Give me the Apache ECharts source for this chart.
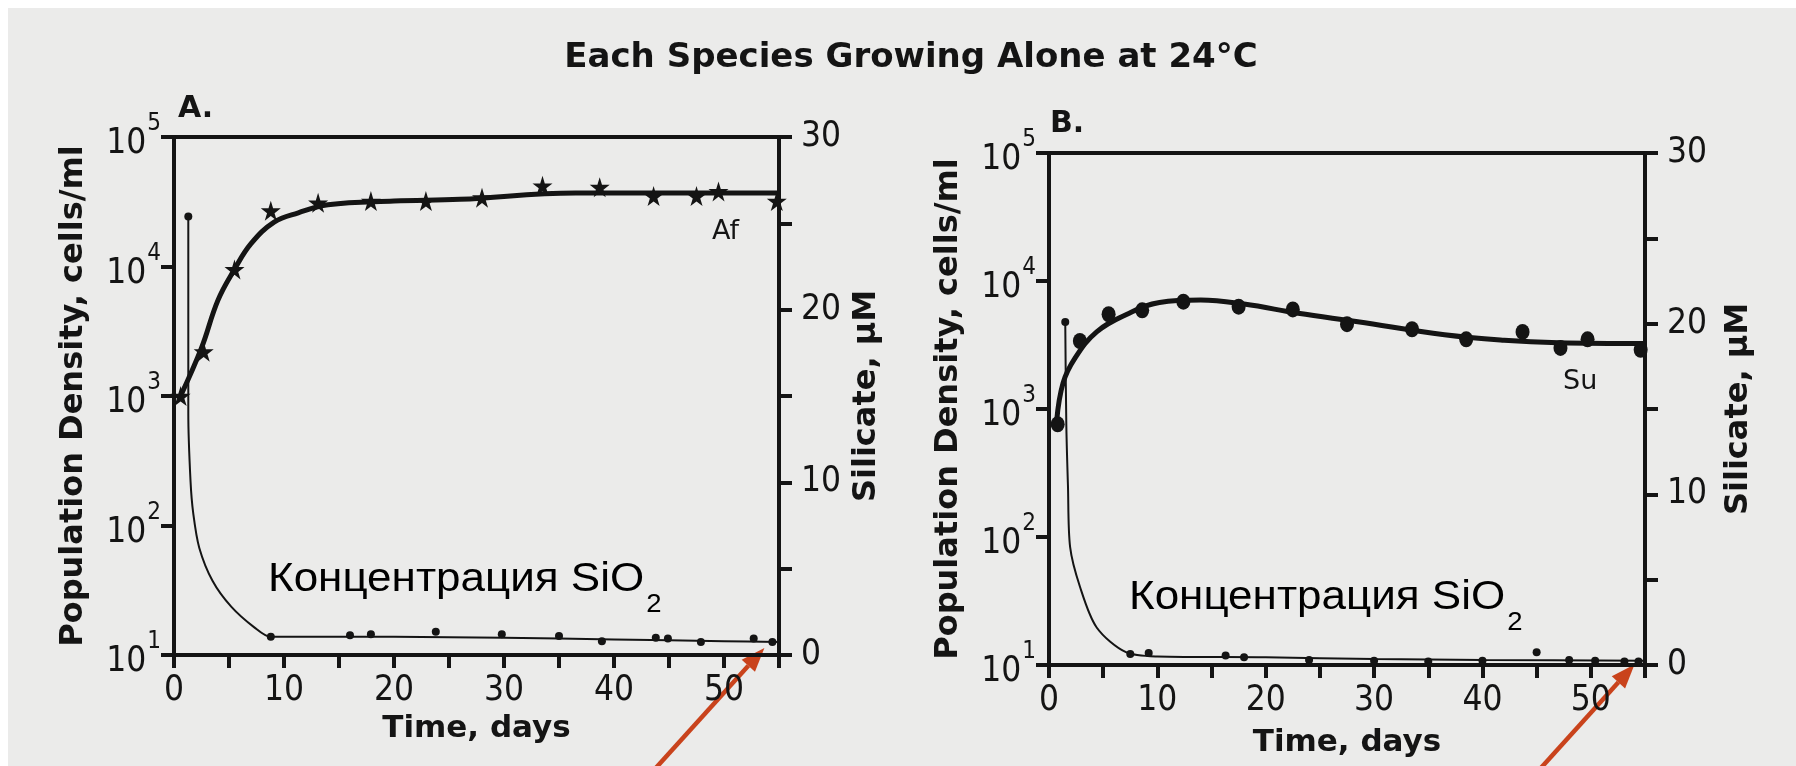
<!DOCTYPE html>
<html>
<head>
<meta charset="utf-8">
<script src="https://cdn.jsdelivr.net/npm/echarts@6/dist/echarts.min.js"></script>
<style>
  html, body { margin: 0; padding: 0; background: #ffffff; }
  #chart { width: 1796px; height: 766px; }
</style>
</head>
<body>
<div id="chart"></div>
<script>
// ---- Panel A: Af growing alone ----
const afDays  = [0.6, 2.7, 5.5, 8.8, 13.1, 17.9, 22.9, 28, 33.5, 38.7, 43.6, 47.5, 49.5, 54.8];
const afCells = [1000, 2200, 9500, 27000, 31000, 32000, 32000, 34000, 42000, 41000, 35000, 35000, 38000, 32000];
const afCurveDays  = [0.6, 2.5, 4, 5.5, 7, 9.1, 11.3, 14, 20, 26, 36.5, 45, 55];
const afCurveCells = [1000, 2350, 5500, 9500, 15000, 22000, 26000, 30000, 32000, 33000, 37000, 37000, 37000];
const afSiDays = [1.3, 8.8, 16, 17.9, 23.8, 29.8, 35, 38.9, 43.8, 44.9, 47.9, 52.7, 54.4];
const afSi     = [25.4, 1.05, 1.15, 1.2, 1.35, 1.2, 1.1, 0.8, 1.0, 0.95, 0.75, 0.95, 0.75];
const afSiCurveDays = [1.3, 1.3, 1.5, 1.75, 2.3, 3.5, 5.2, 7.3, 8.8, 20, 30, 40, 50, 55];
const afSiCurve     = [25.4, 14, 10.1, 8.2, 6.2, 4.3, 2.8, 1.6, 1.05, 1.05, 1.0, 0.9, 0.8, 0.75];

// ---- Panel B: Su growing alone ----
const suDays  = [0.8, 2.85, 5.5, 8.6, 12.4, 17.5, 22.5, 27.5, 33.5, 38.5, 43.7, 47.2, 49.7, 54.6];
const suCells = [760, 3400, 5500, 5900, 6900, 6300, 6000, 4600, 4200, 3500, 4000, 3000, 3500, 2900];
const suCurveDays  = [0.7, 1.3, 2.4, 4.4, 7.2, 10.2, 14, 18, 23, 28.5, 36.5, 42, 47, 55];
const suCurveCells = [800, 1600, 2500, 4000, 5500, 6800, 7100, 6600, 5600, 4800, 3800, 3450, 3300, 3250];
const suSiDays = [1.5, 7.5, 9.2, 16.3, 18, 24, 30, 35, 40, 45, 48, 50.4, 53.1, 54.4];
const suSi     = [20.1, 0.65, 0.7, 0.55, 0.45, 0.3, 0.25, 0.2, 0.25, 0.75, 0.3, 0.25, 0.2, 0.2];
const suSiCurveDays = [1.5, 1.6, 1.75, 1.95, 2.85, 4.4, 7.1, 10, 20, 30, 40, 55];
const suSiCurve     = [20.1, 14, 10.5, 6.9, 4.6, 2.2, 0.75, 0.5, 0.45, 0.35, 0.3, 0.25];

// ---- Text ----
const titleText = 'Each Species Growing Alone at 24°C';
const popAxisName = 'Population Density, cells/ml';
const siAxisName = 'Silicate, μM';
const timeAxisName = 'Time, days';
const panelLabels = ['A.', 'B.'];
const speciesLabels = ['Af', 'Su'];
const siNote = 'Концентрация SiO';

const ink = '#141414';
const arrowRed = '#c9431c';
const narrow = "'Liberation Sans Narrow', 'Arial Narrow', 'DejaVu Sans Condensed', 'Liberation Sans', sans-serif";
const boldFace = "'DejaVu Sans', 'Liberation Sans', sans-serif";
const starPath = 'path://M50,0 L61,35 L98,35 L68,57 L79,91 L50,70 L21,91 L32,57 L2,35 L39,35 Z';

const zip = (xs, ys) => xs.map((x, i) => [x, ys[i]]);

const grids = [
  { left: 174, top: 137, width: 605, height: 518 },
  { left: 1049, top: 153, width: 596, height: 512 }
];
const nameGaps = [
  { pop: 84, si: 72, time: 58 },
  { pop: 84, si: 78, time: 62 }
];

function timeAxis(i) {
  return {
    gridIndex: i, type: 'value', min: 0, max: 55, interval: 5,
    axisLine: { lineStyle: { color: ink, width: 4 } },
    axisTick: { length: 13, lineStyle: { color: ink, width: 4 } },
    splitLine: { show: false },
    axisLabel: {
      margin: 18, color: ink, fontSize: 35, fontFamily: narrow,
      formatter: v => (v % 10 === 0 ? String(v) : '')
    },
    name: timeAxisName, nameLocation: 'middle', nameGap: nameGaps[i].time,
    nameTextStyle: { color: ink, fontSize: 31, fontWeight: 'bold', fontFamily: boldFace }
  };
}
function popAxis(i) {
  return {
    gridIndex: i, type: 'log', logBase: 10, min: 10, max: 100000, position: 'left',
    axisLine: { lineStyle: { color: ink, width: 4 } },
    axisTick: { length: 13, lineStyle: { color: ink, width: 4 } },
    minorTick: { show: false },
    splitLine: { show: false },
    axisLabel: {
      margin: 13, color: ink,
      formatter: v => '{b|10}{s|' + Math.round(Math.log10(v)) + '}',
      rich: {
        // base digits sit slightly below the tick, exponent raised above them
        b: { fontSize: 35, lineHeight: 35, fontFamily: narrow, color: ink, padding: [14, 0, 0, 0] },
        s: { fontSize: 24, lineHeight: 24, fontFamily: narrow, color: ink, padding: [0, 0, 26, 1] }
      }
    },
    name: popAxisName, nameLocation: 'middle', nameGap: nameGaps[i].pop,
    nameTextStyle: { color: ink, fontSize: 32, fontWeight: 'bold', fontFamily: boldFace }
  };
}
function siAxis(i) {
  return {
    gridIndex: i, type: 'value', min: 0, max: 30, interval: 5, position: 'right',
    axisLine: { show: true, lineStyle: { color: ink, width: 4 } },
    axisTick: { show: true, length: 13, lineStyle: { color: ink, width: 4 } },
    splitLine: { show: false },
    axisLabel: {
      margin: 22, color: ink, fontSize: 35, fontFamily: narrow,
      formatter: v => (v % 10 === 0 ? String(v) : '')
    },
    name: siAxisName, nameLocation: 'middle', nameGap: nameGaps[i].si,
    nameTextStyle: { color: ink, fontSize: 32, fontWeight: 'bold', fontFamily: boldFace }
  };
}

function panelSeries(i, obsDays, obsCells, curveDays, curveCells, siDays, si, siCurveDays, siCurve, marker, markerSize) {
  return [
    { name: speciesLabels[i], type: 'line', xAxisIndex: i, yAxisIndex: i * 2,
      data: zip(curveDays, curveCells), smooth: 0.4, showSymbol: false,
      lineStyle: { color: ink, width: 5 }, z: 3 },
    { type: 'scatter', xAxisIndex: i, yAxisIndex: i * 2,
      data: zip(obsDays, obsCells), symbol: marker, symbolSize: markerSize,
      itemStyle: { color: ink, opacity: 1 }, z: 4 },
    { type: 'line', xAxisIndex: i, yAxisIndex: i * 2 + 1,
      data: zip(siCurveDays, siCurve), smooth: 0.3, showSymbol: false,
      lineStyle: { color: ink, width: 2 }, z: 3 },
    { type: 'scatter', xAxisIndex: i, yAxisIndex: i * 2 + 1,
      data: zip(siDays, si), symbol: 'circle', symbolSize: 8,
      itemStyle: { color: ink, opacity: 1 }, z: 4 }
  ];
}

const chart = echarts.init(document.getElementById('chart'), null, { renderer: 'canvas' });

const option = {
  animation: false,
  backgroundColor: '#ebebea',
  title: {
    text: titleText, left: 906, top: 36, textAlign: 'center',
    textStyle: { color: ink, fontSize: 34, fontWeight: 'bold', fontFamily: boldFace }
  },
  grid: grids.map(g => Object.assign({ show: true, borderColor: ink, borderWidth: 4, backgroundColor: 'transparent' }, g)),
  xAxis: [timeAxis(0), timeAxis(1)],
  yAxis: [popAxis(0), siAxis(0), popAxis(1), siAxis(1)],
  series: [
    ...panelSeries(0, afDays, afCells, afCurveDays, afCurveCells, afSiDays, afSi, afSiCurveDays, afSiCurve, starPath, 20),
    ...panelSeries(1, suDays, suCells, suCurveDays, suCurveCells, suSiDays, suSi, suSiCurveDays, suSiCurve, 'circle', [14, 16])
  ]
};
chart.setOption(option);

// Annotations: panel letters, species tags, silicate notes and arrows to the last silicate sample
function noteText(x, y) {
  return {
    type: 'text', x: x, y: y, scaleX: 1.1, originX: 0, originY: 0, z: 10,
    style: {
      text: '{m|' + siNote + '}{sub|2}', align: 'left', verticalAlign: 'top',
      rich: {
        m: { fontSize: 40, lineHeight: 40, fontFamily: "'Liberation Sans', Arial, sans-serif", fill: '#000', verticalAlign: 'top' },
        sub: { fontSize: 25, lineHeight: 25, fontFamily: "'Liberation Sans', Arial, sans-serif", fill: '#000', verticalAlign: 'top', padding: [33, 0, 0, 2] }
      }
    }
  };
}
function arrow(tip) {
  const dx = -0.67, dy = 0.74, len = 200, head = 24, half = 9;
  const bx = tip[0] + dx * head, by = tip[1] + dy * head;
  const px = -dy, py = dx;
  return {
    type: 'group', z: 20,
    children: [
      { type: 'line', shape: { x1: tip[0] + dx * len, y1: tip[1] + dy * len, x2: bx, y2: by },
        style: { stroke: arrowRed, lineWidth: 4.5 } },
      { type: 'polygon', shape: { points: [tip, [bx + px * half, by + py * half], [bx - px * half, by - py * half]] },
        style: { fill: arrowRed } }
    ]
  };
}

const lastA = chart.convertToPixel({ xAxisIndex: 0, yAxisIndex: 1 }, [afSiDays[afSiDays.length - 1], afSi[afSi.length - 1]]);
const lastB = chart.convertToPixel({ xAxisIndex: 1, yAxisIndex: 3 }, [suSiDays[suSiDays.length - 1], suSi[suSi.length - 1]]);

chart.setOption({
  graphic: [
    { type: 'rect', shape: { x: 0, y: 0, width: 1796, height: 8 }, style: { fill: '#ffffff' }, z: 0 },
    { type: 'rect', shape: { x: 0, y: 0, width: 8, height: 766 }, style: { fill: '#ffffff' }, z: 0 },
    { type: 'text', x: 178, y: 109, z: 10, style: { text: panelLabels[0], fill: ink, font: 'bold 30px ' + boldFace, verticalAlign: 'middle' } },
    { type: 'text', x: 1050, y: 124, z: 10, style: { text: panelLabels[1], fill: ink, font: 'bold 30px ' + boldFace, verticalAlign: 'middle' } },
    { type: 'text', x: 712, y: 232, z: 10, style: { text: speciesLabels[0], fill: ink, font: '27px ' + boldFace, verticalAlign: 'middle' } },
    { type: 'text', x: 1563, y: 382, z: 10, style: { text: speciesLabels[1], fill: ink, font: '27px ' + boldFace, verticalAlign: 'middle' } },
    noteText(268, 560),
    noteText(1129, 578),
    arrow([lastA[0] - 8, lastA[1] + 6]),
    arrow([lastB[0] - 4, lastB[1] + 3])
  ]
});
</script>
</body>
</html>
